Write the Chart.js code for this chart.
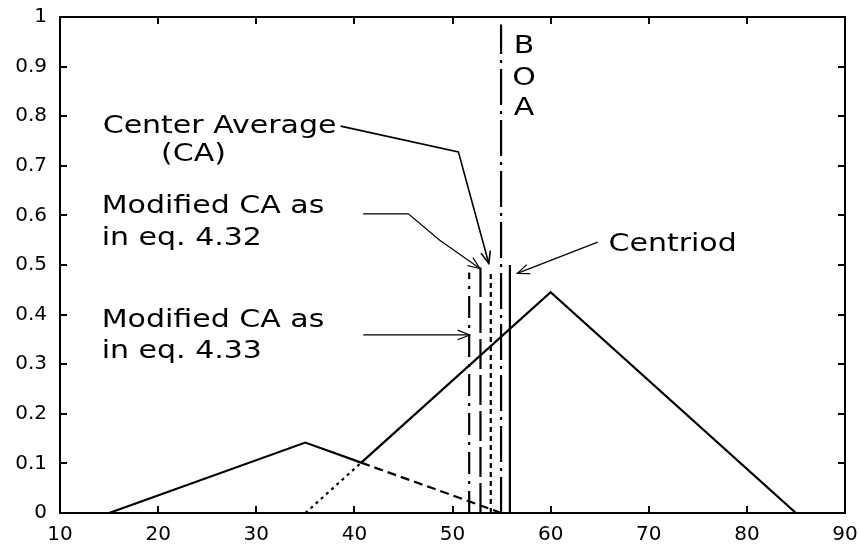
<!DOCTYPE html>
<html>
<head>
<meta charset="utf-8">
<script src="https://cdn.jsdelivr.net/npm/chart.js@4/dist/chart.umd.min.js"></script>
<style>
  html, body { margin: 0; padding: 0; background: #ffffff; }
  #wrap { width: 859px; height: 546px; }
</style>
</head>
<body>
<div id="wrap"><canvas id="c" width="859" height="546"></canvas></div>
<script>
// Axis ticks
const xTicks = [10, 20, 30, 40, 50, 60, 70, 80, 90];
const xTickLabels = ['10', '20', '30', '40', '50', '60', '70', '80', '90'];
const yTicks = [0, 0.1, 0.2, 0.3, 0.4, 0.5, 0.6, 0.7, 0.8, 0.9, 1];
const yTickLabels = ['0', '0.1', '0.2', '0.3', '0.4', '0.5', '0.6', '0.7', '0.8', '0.9', '1'];

// Aggregated output membership (solid)
const aggregateX = [15, 35, 40.7, 60, 85];
const aggregateY = [0, 0.142, 0.1015, 0.445, 0];

// Hidden tail of the first clipped set (dashed)
const set1TailX = [40.7, 55];
const set1TailY = [0.1015, 0];

// Hidden rise of the second clipped set (dotted)
const set2RiseX = [35, 40.7];
const set2RiseY = [0, 0.1015];

// Defuzzified outputs, drawn as vertical markers
const defuzzNames = ['Modified CA (eq. 4.33)', 'Modified CA (eq. 4.32)', 'Center Average', 'BOA', 'Centroid'];
const defuzzX = [51.7, 52.85, 53.9, 54.95, 55.85];
const defuzzHeight = [0.485, 0.495, 0.487, 0.985, 0.5];

// Line styles for the markers, in the same order
const defuzzDash = [[22, 7, 3, 7], [30, 6], [5, 4], [36, 6, 3, 6], []];

const toPoints = (xs, ys) => xs.map((x, i) => ({ x: x, y: ys[i] }));

const lineBase = {
  showLine: true, pointRadius: 0, borderColor: '#000', borderWidth: 2.2,
  fill: false, tension: 0, borderCapStyle: 'butt'
};

const datasets = [
  Object.assign({}, lineBase, { label: 'aggregate', data: toPoints(aggregateX, aggregateY) }),
  Object.assign({}, lineBase, { label: 'set 1', data: toPoints(set1TailX, set1TailY), borderDash: [9, 5] }),
  Object.assign({}, lineBase, { label: 'set 2', data: toPoints(set2RiseX, set2RiseY), borderDash: [3, 4] })
];
defuzzX.forEach((x, i) => {
  datasets.push(Object.assign({}, lineBase, {
    label: defuzzNames[i],
    data: [{ x: x, y: 0 }, { x: x, y: defuzzHeight[i] }],
    borderDash: defuzzDash[i]
  }));
});

// Annotation layout (data units); text is drawn slightly widened
const FONT_FAMILY = '"DejaVu Sans", sans-serif';
const NOTE_FONT = '25px ' + FONT_FAMILY;
const NOTE_STRETCH = 1.2;
const notes = [
  { text: 'Center Average', x: 14.35, y: 0.766, align: 'left' },
  { text: '(CA)', x: 20.3, y: 0.710, align: 'left' },
  { text: 'Modified CA as', x: 14.25, y: 0.604, align: 'left' },
  { text: 'in eq. 4.32', x: 14.25, y: 0.540, align: 'left' },
  { text: 'Modified CA as', x: 14.25, y: 0.3756, align: 'left' },
  { text: 'in eq. 4.33', x: 14.25, y: 0.3125, align: 'left' },
  { text: 'Centriod', x: 65.9, y: 0.528, align: 'left' },
  { text: 'B', x: 57.3, y: 0.927, align: 'center' },
  { text: 'O', x: 57.3, y: 0.863, align: 'center' },
  { text: 'A', x: 57.3, y: 0.802, align: 'center' }
];
const arrows = [
  { pts: [[38.6, 0.780], [50.6, 0.728], [53.7, 0.503]], width: 1.6 },
  { pts: [[40.9, 0.603], [45.5, 0.603], [48.7, 0.550], [52.8, 0.493]], width: 1.2 },
  { pts: [[40.9, 0.359], [51.75, 0.359]], width: 1.2 },
  { pts: [[64.8, 0.546], [56.6, 0.483]], width: 1.2 }
];

const framePlugin = {
  id: 'frame',
  afterDatasetsDraw(chart) {
    const { ctx, chartArea: a, scales } = chart;
    const xs = scales.x, ys = scales.y;
    ctx.save();
    ctx.strokeStyle = '#000';
    ctx.lineWidth = 2;
    ctx.strokeRect(a.left, a.top, a.right - a.left, a.bottom - a.top);
    const tl = 7;
    ctx.beginPath();
    xTicks.forEach(v => {
      const px = Math.round(xs.getPixelForValue(v));
      ctx.moveTo(px, a.bottom); ctx.lineTo(px, a.bottom - tl);
      ctx.moveTo(px, a.top); ctx.lineTo(px, a.top + tl);
    });
    yTicks.forEach(v => {
      const py = Math.round(ys.getPixelForValue(v));
      ctx.moveTo(a.left, py); ctx.lineTo(a.left + tl, py);
      ctx.moveTo(a.right, py); ctx.lineTo(a.right - tl, py);
    });
    ctx.stroke();

    // annotation text
    ctx.fillStyle = '#000';
    ctx.font = NOTE_FONT;
    ctx.textBaseline = 'alphabetic';
    notes.forEach(n => {
      ctx.save();
      ctx.translate(xs.getPixelForValue(n.x), ys.getPixelForValue(n.y));
      ctx.scale(NOTE_STRETCH, 1);
      ctx.textAlign = n.align;
      ctx.fillText(n.text, 0, 0);
      ctx.restore();
    });

    // annotation arrows with open heads
    arrows.forEach(a2 => {
      const p = a2.pts.map(q => [xs.getPixelForValue(q[0]), ys.getPixelForValue(q[1])]);
      ctx.lineWidth = a2.width;
      ctx.beginPath();
      ctx.moveTo(p[0][0], p[0][1]);
      for (let i = 1; i < p.length; i++) ctx.lineTo(p[i][0], p[i][1]);
      ctx.stroke();
      const tip = p[p.length - 1], prev = p[p.length - 2];
      const ang = Math.atan2(tip[1] - prev[1], tip[0] - prev[0]);
      const hl = 13, spread = 0.38;
      ctx.beginPath();
      ctx.moveTo(tip[0] - hl * Math.cos(ang - spread), tip[1] - hl * Math.sin(ang - spread));
      ctx.lineTo(tip[0], tip[1]);
      ctx.lineTo(tip[0] - hl * Math.cos(ang + spread), tip[1] - hl * Math.sin(ang + spread));
      ctx.stroke();
    });
    ctx.restore();
  }
};

new Chart(document.getElementById('c'), {
  type: 'scatter',
  data: { datasets: datasets },
  options: {
    responsive: false,
    animation: false,
    devicePixelRatio: 1,
    layout: { padding: { left: 0, top: 17, right: 14, bottom: 0 } },
    plugins: { legend: { display: false }, tooltip: { enabled: false } },
    scales: {
      x: {
        type: 'linear', min: 10, max: 90,
        afterFit: s => { s.height = 33; s.paddingLeft = 0; s.paddingRight = 0; },
        afterBuildTicks: s => { s.ticks = xTicks.map(v => ({ value: v })); },
        grid: { display: false, drawTicks: false },
        border: { display: false },
        ticks: {
          color: '#000', padding: 10, maxRotation: 0, autoSkip: false,
          font: { family: FONT_FAMILY, size: 20 },
          callback: (v, i) => xTickLabels[i]
        }
      },
      y: {
        type: 'linear', min: 0, max: 1,
        afterFit: s => { s.width = 60; s.paddingTop = 0; s.paddingBottom = 0; },
        afterBuildTicks: s => { s.ticks = yTicks.map(v => ({ value: v })); },
        grid: { display: false, drawTicks: false },
        border: { display: false },
        ticks: {
          color: '#000', padding: 13, autoSkip: false,
          font: { family: FONT_FAMILY, size: 20 },
          callback: (v, i) => yTickLabels[i]
        }
      }
    }
  },
  plugins: [framePlugin]
});
</script>
</body>
</html>
